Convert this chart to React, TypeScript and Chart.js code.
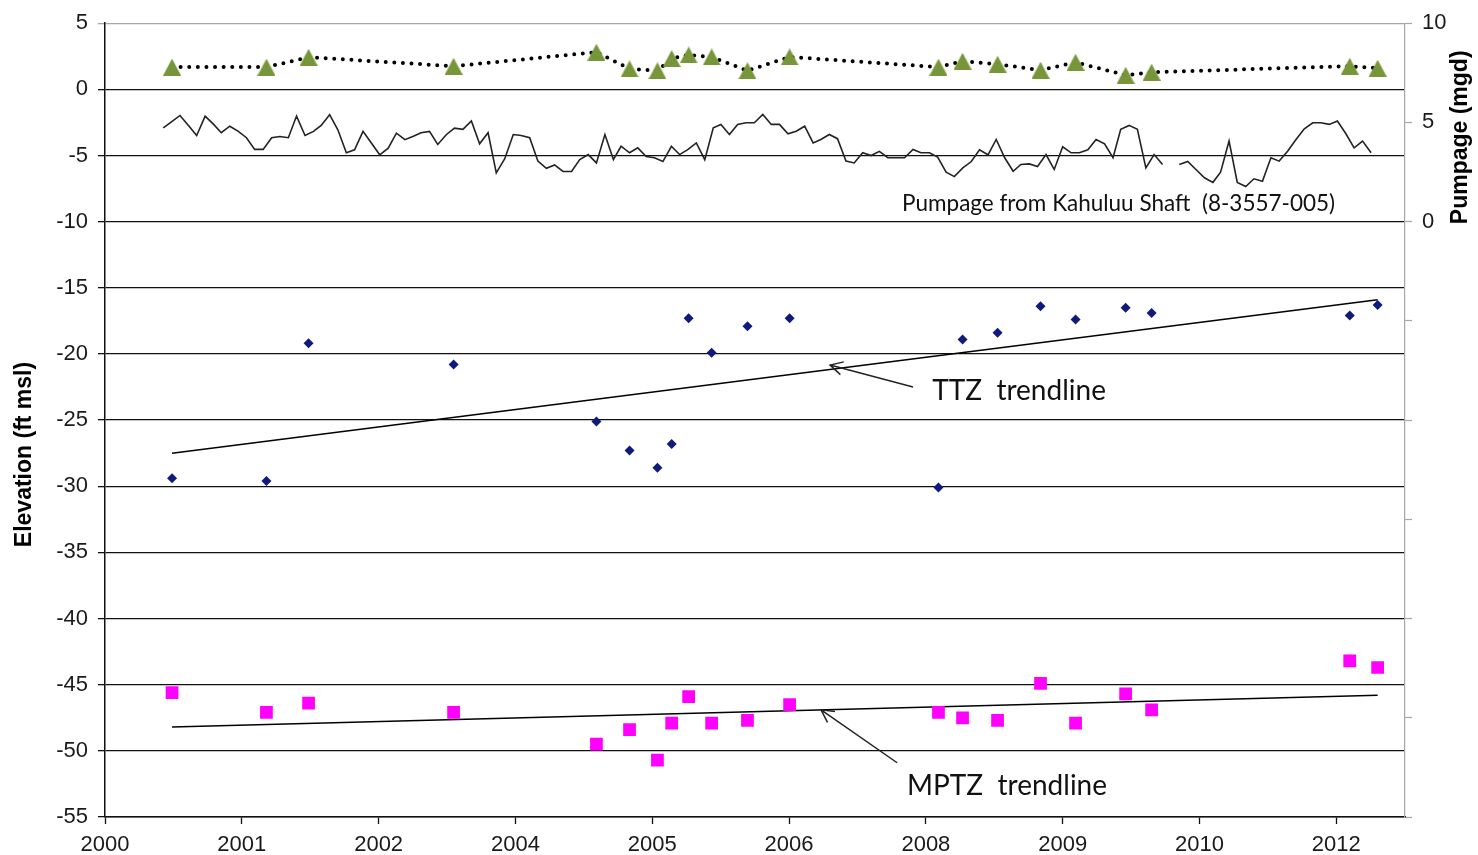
import React, { useEffect, useRef } from "react";
import { Chart, registerables } from "chart.js";

Chart.register(...registerables);

// ---------- DATA ----------
const xTickLabels = ["2000", "2001", "2002", "2004", "2005", "2006", "2008", "2009", "2010", "2012"];
const X_TICK_STEP_DAYS = 500;
const X_MAX_DAYS = 4751;

// sampling dates (shared by the three sampled series)
const sampleDates = [
  "2000-09-02", "2001-08-13", "2002-01-14", "2003-06-28", "2004-12-01", "2005-04-01",
  "2005-07-12", "2005-09-02", "2005-11-03", "2006-01-26", "2006-06-06", "2006-11-07",
  "2008-05-04", "2008-07-31", "2008-12-06", "2009-05-12", "2009-09-17", "2010-03-19",
  "2010-06-22", "2012-06-15", "2012-09-25",
];

// green triangles (upper water level, ft msl)
const upperLevels = [
  1.68, 1.68, 2.43, 1.75, 2.81, 1.55, 1.41, 2.33, 2.6, 2.45, 1.41, 2.45,
  1.68, 2.13, 1.9, 1.45, 2.05, 1.07, 1.3, 1.75, 1.6,
];

// TTZ (dark blue diamonds, ft msl)
const ttzLevels = [
  -29.4, -29.6, -19.2, -20.8, -25.1, -27.3, -28.6, -26.8, -17.3, -19.9, -17.9, -17.3,
  -30.1, -18.9, -18.4, -16.4, -17.4, -16.5, -16.9, -17.1, -16.3,
];

// MPTZ (magenta squares, ft msl)
const mptzLevels = [
  -45.6, -47.1, -46.4, -47.1, -49.5, -48.4, -50.7, -47.9, -45.9, -47.9, -47.7, -46.5,
  -47.1, -47.5, -47.7, -44.9, -47.9, -45.7, -46.9, -43.2, -43.7,
];

// trendline end values (first and last sample date)
const ttzTrend = [-27.5, -15.9];
const mptzTrend = [-48.2, -45.8];

// monthly pumpage (mgd), first value = Aug 2000
const PUMPAGE_START_YEAR = 2000;
const PUMPAGE_START_MONTH = 7; // 0-based (August)
const pumpage: (number | null)[] = [
  4.73, 5.04, 5.35, 4.85, 4.34,
  5.32, 4.9, 4.48, 4.81, 4.56, 4.23, 3.64, 3.64, 4.23, 4.29, 4.23, 5.32,
  4.34, 4.55, 4.85, 5.39, 4.63, 3.47, 3.62, 4.55, 3.95, 3.37, 3.7, 4.46,
  4.13, 4.3, 4.48, 4.55, 3.89, 4.38, 4.71, 4.65, 5.07, 3.92, 4.48, 2.46,
  3.17, 4.39, 4.34, 4.23, 3.05, 2.69, 2.86, 2.53, 2.53, 3.13, 3.38, 2.96,
  4.39, 3.13, 3.8, 3.47, 3.72, 3.28, 3.22, 3.03, 3.8, 3.38, 3.64, 3.97,
  3.12, 4.73, 4.9, 4.39, 4.9, 4.98, 4.98, 5.4, 4.9, 4.9, 4.43, 4.56,
  4.81, 3.97, 4.14, 4.39, 4.18, 3.05, 2.96, 3.47, 3.33, 3.54, 3.22, 3.22,
  3.22, 3.64, 3.47, 3.47, 3.25, 2.49, 2.27, 2.71, 3.03, 3.62, 3.37, 4.14,
  3.22, 2.54, 2.88, 2.91, 2.78, 3.38, 2.63, 3.77, 3.47, 3.47, 3.62, 4.14,
  3.92, 3.22, 4.65, 4.85, 4.65, 2.71, 3.38, 2.88, null, 2.88, 3.03, 2.63,
  2.21, 1.98, 2.49, 4.06, 1.98, 1.77, 2.16, 2.04, 3.22, 3.05, 3.55, 4.13,
  4.68, 4.98, 4.98, 4.9, 5.07, 4.43, 3.72, 4.06, 3.47,
];

const leftTitle = "Elevation (ft msl)";
const rightTitle = "Pumpage (mgd)";
const pumpageLabel = "Pumpage from Kahuluu Shaft  (8-3557-005)";
const ttzLabel = "TTZ  trendline";
const mptzLabel = "MPTZ  trendline";

// ---------- helpers ----------
const ORIGIN = Date.UTC(2000, 0, 1);
const DAY = 86400000;
const dayOf = (s: string) => (Date.parse(s) - ORIGIN) / DAY;

const sampleDays = sampleDates.map(dayOf);
const toPoints = (vals: number[]) => vals.map((v, i) => ({ x: sampleDays[i], y: v }));
const pumpagePoints = pumpage.map((v, i) => ({
  x: (Date.UTC(PUMPAGE_START_YEAR, PUMPAGE_START_MONTH + i, 1) - ORIGIN) / DAY,
  y: v,
}));
const firstDay = sampleDays[0];
const lastDay = sampleDays[sampleDays.length - 1];

const TICK_FONT = { family: "'Liberation Sans', Arial, sans-serif", size: 22 };
const TICK_COLOR = "#1a1a1a";
const NOTE_FONT = "Lato, 'Open Sans', sans-serif";

function makeTriangle(w: number, h: number, color: string) {
  const c = document.createElement("canvas");
  c.width = w;
  c.height = h;
  const g = c.getContext("2d")!;
  g.fillStyle = color;
  g.beginPath();
  g.moveTo(w / 2, 0);
  g.lineTo(w, h);
  g.lineTo(0, h);
  g.closePath();
  g.fill();
  return c;
}

const overlayPlugin = {
  id: "overlay",
  afterDraw(chart: any) {
    const { ctx } = chart;
    const x = chart.scales.x;
    const y = chart.scales.y;
    const y2 = chart.scales.y2;
    ctx.save();

    // axis titles
    ctx.fillStyle = "#000";
    ctx.font = "bold 23px 'Liberation Sans', Arial, sans-serif";
    ctx.textAlign = "center";
    ctx.textBaseline = "middle";
    ctx.save();
    ctx.translate(25, y.getPixelForValue(-27.6));
    ctx.rotate(-Math.PI / 2);
    ctx.fillText(leftTitle, 0, 0);
    ctx.restore();
    ctx.save();
    ctx.translate(chart.chartArea.right + 56, y2.getPixelForValue(4.25));
    ctx.rotate(-Math.PI / 2);
    ctx.fillText(rightTitle, 0, 0);
    ctx.restore();

    // annotation texts
    const notes = [
      { text: pumpageLabel, day: 2913, val: -8.68, size: 22.5, width: 433 },
      { text: ttzLabel, day: 3023, val: -22.8, size: 28, width: 175 },
      { text: mptzLabel, day: 2931, val: -52.66, size: 28, width: 203 },
    ];
    ctx.textAlign = "left";
    ctx.fillStyle = "#111";
    for (const n of notes) {
      ctx.font = `${n.size}px ${NOTE_FONT}`;
      ctx.fillText(n.text, x.getPixelForValue(n.day), y.getPixelForValue(n.val), n.width);
    }

    // arrows
    const arrows = [
      { from: [2953, -22.5], to: [2650, -20.84] },
      { from: [2895, -50.9], to: [2617, -46.9] },
    ];
    ctx.strokeStyle = "#222";
    ctx.lineWidth = 1.5;
    for (const a of arrows) {
      const x1 = x.getPixelForValue(a.from[0]);
      const y1 = y.getPixelForValue(a.from[1]);
      const x2 = x.getPixelForValue(a.to[0]);
      const y2p = y.getPixelForValue(a.to[1]);
      ctx.beginPath();
      ctx.moveTo(x1, y1);
      ctx.lineTo(x2, y2p);
      const ang = Math.atan2(y1 - y2p, x1 - x2);
      const L = 14;
      const spread = (28 * Math.PI) / 180;
      ctx.moveTo(x2 + L * Math.cos(ang + spread), y2p + L * Math.sin(ang + spread));
      ctx.lineTo(x2, y2p);
      ctx.lineTo(x2 + L * Math.cos(ang - spread), y2p + L * Math.sin(ang - spread));
      ctx.stroke();
    }
    ctx.restore();
  },
};

export default function App() {
  const ref = useRef<HTMLCanvasElement>(null);

  useEffect(() => {
    const triangle = makeTriangle(18, 17, "#77963a");
    const gridColor = (c: any) => (c.tick && c.tick.value === 5 ? "#a6a6a6" : "#111");

    const chart = new Chart(ref.current!, {
      type: "line",
      data: {
        datasets: [
          {
            label: "TTZ",
            data: toPoints(ttzLevels),
            showLine: false,
            pointStyle: "rectRot",
            pointRadius: 5,
            pointBackgroundColor: "#0f1a7c",
            pointBorderColor: "#0f1a7c",
            pointBorderWidth: 0,
            yAxisID: "y",
          },
          {
            label: "MPTZ",
            data: toPoints(mptzLevels),
            showLine: false,
            pointStyle: "rect",
            pointRadius: 9,
            pointBackgroundColor: "#ff00ff",
            pointBorderColor: "#ff00ff",
            pointBorderWidth: 0,
            yAxisID: "y",
          },
          {
            label: "Upper",
            data: toPoints(upperLevels),
            borderColor: "#000",
            borderWidth: 4,
            borderDash: [0, 8.6],
            borderCapStyle: "round",
            pointStyle: triangle as any,
            pointRadius: 8,
            yAxisID: "y",
          },
          {
            label: "TTZ trend",
            data: [
              { x: firstDay, y: ttzTrend[0] },
              { x: lastDay, y: ttzTrend[1] },
            ],
            borderColor: "#000",
            borderWidth: 1.5,
            pointRadius: 0,
            yAxisID: "y",
          },
          {
            label: "MPTZ trend",
            data: [
              { x: firstDay, y: mptzTrend[0] },
              { x: lastDay, y: mptzTrend[1] },
            ],
            borderColor: "#000",
            borderWidth: 1.5,
            pointRadius: 0,
            yAxisID: "y",
          },
          {
            label: "Pumpage",
            data: pumpagePoints as any,
            borderColor: "#222",
            borderWidth: 1.6,
            pointRadius: 0,
            spanGaps: false,
            tension: 0,
            yAxisID: "y2",
          },
        ],
      },
      options: {
        responsive: false,
        animation: false,
        events: [],
        layout: { padding: { top: 23, left: 0, right: 0, bottom: 0 } },
        plugins: { legend: { display: false }, tooltip: { enabled: false } },
        scales: {
          x: {
            type: "linear",
            min: 0,
            max: X_MAX_DAYS,
            afterBuildTicks: (s: any) => {
              s.ticks = xTickLabels.map((_, i) => ({ value: i * X_TICK_STEP_DAYS }));
            },
            afterFit: (s: any) => {
              s.height = 38;
            },
            ticks: {
              autoSkip: false,
              maxRotation: 0,
              padding: 8,
              font: TICK_FONT,
              color: TICK_COLOR,
              callback: (v: any) => xTickLabels[Math.round(Number(v) / X_TICK_STEP_DAYS)] ?? "",
            },
            grid: { drawOnChartArea: false, drawTicks: true, tickLength: 7, tickColor: "#111", tickWidth: 1.3 },
            border: { display: true, color: "#111", width: 1.5 },
          },
          y: {
            type: "linear",
            position: "left",
            min: -55,
            max: 5,
            afterFit: (s: any) => {
              s.width = 105;
            },
            ticks: { stepSize: 5, padding: 10, font: TICK_FONT, color: TICK_COLOR },
            grid: {
              color: gridColor,
              tickColor: gridColor,
              lineWidth: 1.3,
              tickLength: 7,
              tickWidth: 1.3,
            },
            border: { display: true, color: "#111", width: 1.5 },
          },
          y2: {
            type: "linear",
            position: "right",
            min: -30,
            max: 10,
            afterFit: (s: any) => {
              s.width = 73;
            },
            ticks: {
              stepSize: 5,
              padding: 10,
              font: TICK_FONT,
              color: TICK_COLOR,
              callback: (v: any) => (Number(v) >= 0 ? String(v) : ""),
            },
            grid: { drawOnChartArea: false, tickLength: 7, tickColor: "#a6a6a6", tickWidth: 1.2 },
            border: { display: true, color: "#a6a6a6", width: 1.2 },
          },
        },
      },
      plugins: [overlayPlugin],
    } as any);
    return () => chart.destroy();
  }, []);

  return (
    <div style={{ position: "fixed", left: 0, top: 0, width: 1478, height: 855, background: "#fff" }}>
      <canvas ref={ref} width={1478} height={855} style={{ display: "block" }} />
    </div>
  );
}
